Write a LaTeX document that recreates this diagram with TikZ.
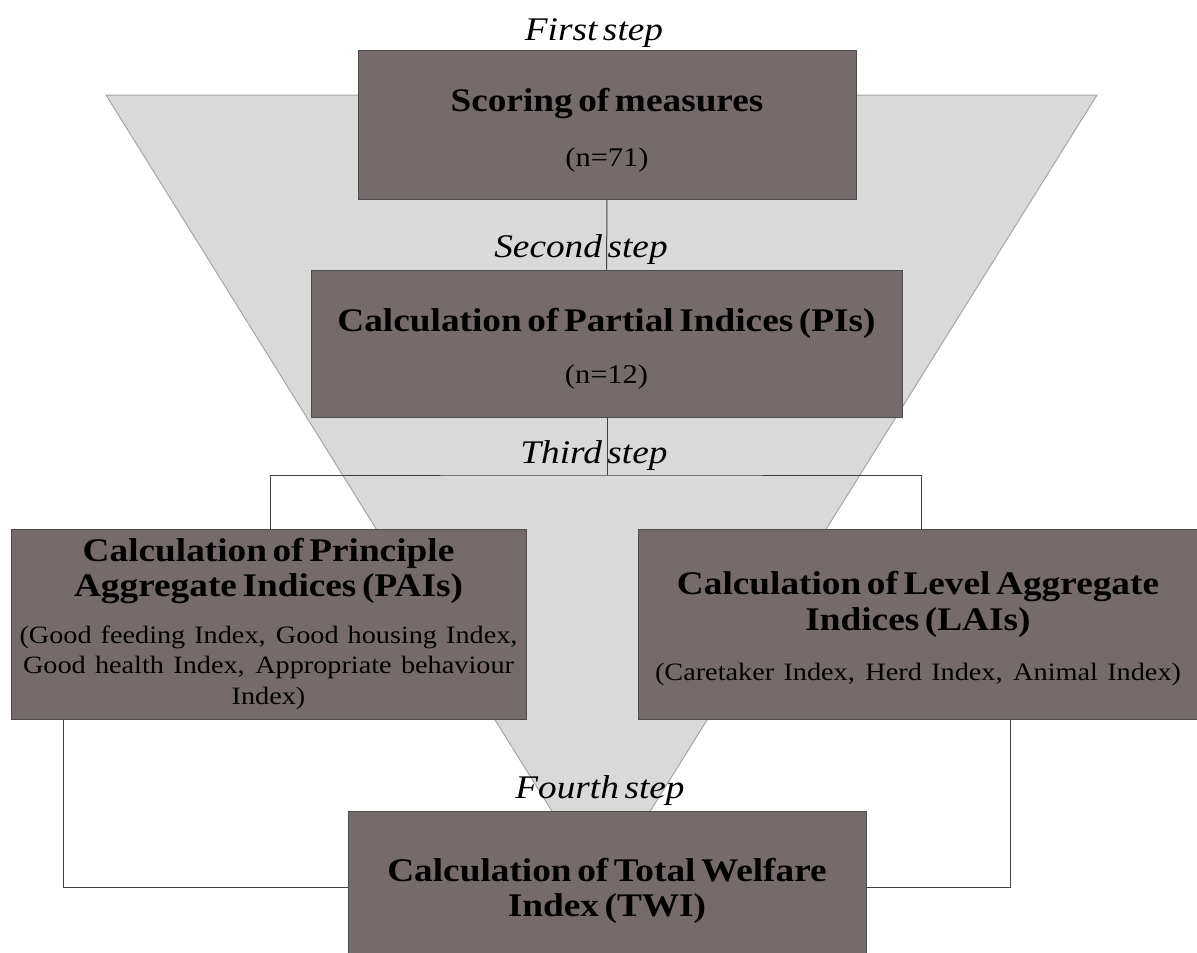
\documentclass[tikz,border=0pt]{standalone}
\usepackage{fontspec}
\setmainfont[FakeStretch=1.13]{Liberation Serif}
\newfontfamily\headfont[FakeStretch=1.13,WordSpace=0.6]{Liberation Serif}
\usetikzlibrary{positioning}

\definecolor{boxfill}{HTML}{756B6B}
\definecolor{funnelfill}{HTML}{D9D9D9}

\newcommand{\titlefont}{\headfont\bfseries\fontsize{33}{35}\selectfont}
\newcommand{\countfont}{\mdseries\fontsize{27}{32}\selectfont}
\newcommand{\listfont}{\mdseries\fontsize{25}{30.5}\selectfont}
\AtBeginDocument{\lineskiplimit=-100pt}

\tikzset{
  stepbox/.style={draw=black!70, fill=boxfill, line width=1pt, inner sep=0pt, align=center, font=\titlefont},
  steplabel/.style={font=\headfont\itshape\fontsize{33}{36}\selectfont, inner sep=0pt, anchor=base},
  link/.style={draw=black!75, line width=1pt},
}

\begin{document}
\begin{tikzpicture}[x=1pt,y=-1pt]
    \useasboundingbox (0,0) rectangle (1197,953);
    % funnel behind the steps
    \filldraw[fill=funnelfill, draw=black!35, line width=1pt] (106,95) -- (1097,95) -- (601,890) -- cycle;

    \node[stepbox, minimum width=498pt, minimum height=149pt] (score) at (607,124.5)
        {\rule{0pt}{34pt}Scoring of measures\\[20pt]\countfont (n=71)};
    \node[stepbox, minimum width=591pt, minimum height=147pt] (partial) at (606.5,343.5)
        {\rule{0pt}{33pt}Calculation of Partial Indices (PIs)\\[17pt]\countfont (n=12)};
    \node[stepbox, minimum width=515pt, minimum height=190pt] (pai) at (268.5,624)
        {Calculation of Principle\\Aggregate Indices (PAIs)\\[12pt]
         \listfont\makebox[498pt][s]{(Good feeding Index, Good housing Index,}\\[-4.5pt]
         \listfont\makebox[491pt][s]{Good health Index, Appropriate behaviour}\\[-4.5pt]
         \listfont Index)};
    \node[stepbox, minimum width=560pt, minimum height=190pt] (lai) at (918,624)
        {\rule{0pt}{32pt}Calculation of Level Aggregate\\[1pt]Indices (LAIs)\\[15pt]
         \listfont\makebox[526pt][s]{(Caretaker Index, Herd Index, Animal Index)}};
    \node[stepbox, minimum width=518pt, minimum height=160pt] (twi) at (607,891)
        {Calculation of Total Welfare\\Index (TWI)};

    \node[steplabel] (first) at (594,40) {First step};
    \node[steplabel] (second) at (581,257) {Second step};
    \node[steplabel] (third) at (594,463) {Third step};
    \node[steplabel] (fourth) at (600,798) {Fourth step};

    \coordinate (split) at (607,475);
    \draw[link] (score) -- (partial);
    \draw[link] (partial.south -| split) -- (split);
    \draw[link] ([xshift=1.5pt]pai.north) |- (split) -| ([xshift=3pt]lai.north);
    \draw[link] ([xshift=53pt]pai.south west) |- ([yshift=4pt]twi.west);
    \draw[link] ([xshift=-188pt]lai.south east) |- ([yshift=4pt]twi.east);
\end{tikzpicture}
\end{document}
